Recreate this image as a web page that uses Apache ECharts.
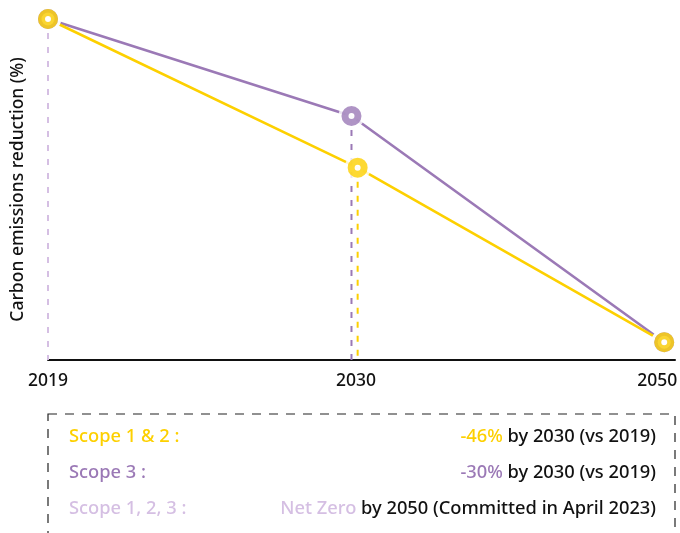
<!DOCTYPE html>
<html>
<head>
<meta charset="utf-8">
<script src="https://cdn.jsdelivr.net/npm/echarts@6/dist/echarts.min.js"></script>
<style>
html,body{margin:0;padding:0;background:#fff;}
#chart{width:680px;height:533px;}
</style>
</head>
<body>
<div id="chart"></div>
<script>
// ---- data ----
const yearLabels = ['2019', '2030', '2050'];
const tickPos = [0, 1, 2];
const scope12X = [0, 1.005, 2];
const scope12 = [100, 54, 0];
const scope3X = [0, 0.985, 2];
const scope3 = [100, 70, 0];
const yName = 'Carbon emissions reduction (%)';
const legendRows = [
  { label: 'Scope 1 & 2 :', value: '-46%', rest: ' by 2030 (vs 2019)', key: 'y' },
  { label: 'Scope 3 :', value: '-30%', rest: ' by 2030 (vs 2019)', key: 'p' },
  { label: 'Scope 1, 2, 3 :', value: 'Net Zero', rest: ' by 2050 (Committed in April 2023)', key: 'l' }
];

const YELLOW = '#FDD000';
const PURPLE = '#9B79B6';
const LAV = '#D5BFE3';
const FONT = '"Noto Sans"';
const FW = 500;
const Y_MIN = -5.5;

const zip = (xs, ys) => xs.map((x, i) => [x, ys[i]]);
const colorOf = { y: YELLOW, p: PURPLE, l: LAV };

const chart = echarts.init(document.getElementById('chart'), null, { renderer: 'canvas' });

const graphics = [{
  type: 'rect',
  shape: { x: 48, y: 414, width: 627, height: 150 },
  style: { fill: 'none', stroke: '#222', lineWidth: 1.2, lineDash: [9, 8] },
  silent: true
}];
const rowY = [437, 473, 509];
legendRows.forEach((r, i) => {
  graphics.push({
    type: 'text', x: 69, y: rowY[i],
    style: { text: r.label, fill: colorOf[r.key], fontSize: 18.3, fontFamily: FONT, fontWeight: FW, verticalAlign: 'middle' }
  });
  graphics.push({
    type: 'text', x: 656, y: rowY[i],
    style: {
      text: '{v|' + r.value + '}{k|' + r.rest + '}',
      align: 'right', verticalAlign: 'middle',
      rich: {
        v: { fill: colorOf[r.key], fontSize: 18.3, fontFamily: FONT, fontWeight: FW },
        k: { fill: '#111', fontSize: 18.3, fontFamily: FONT, fontWeight: FW }
      }
    }
  });
});

const dashStyle = (c) => ({ color: c, width: 2, type: [6, 8] });

chart.setOption({
  animation: false,
  backgroundColor: '#fff',
  textStyle: { fontFamily: FONT },
  grid: { left: 48, right: 5, top: 19, bottom: 173, containLabel: false, outerBoundsMode: 'none' },
  xAxis: {
    type: 'value', min: 0, max: 2.035, interval: 1,
    axisLine: { show: true, onZero: false, lineStyle: { color: '#111', width: 2 } },
    axisTick: { show: false },
    splitLine: { show: false },
    axisLabel: {
      margin: 12, color: '#111', fontSize: 17.5, fontFamily: FONT, fontWeight: FW,
      showMaxLabel: false,
      formatter: (v) => {
        const i = tickPos.indexOf(v);
        if (i < 0) return '';
        return i === 2 ? '{r|' + yearLabels[i] + '}' : yearLabels[i];
      },
      rich: { r: { fontSize: 17.5, fontFamily: FONT, fontWeight: FW, color: '#111', padding: [0, 14, 0, 0] } }
    }
  },
  yAxis: {
    type: 'value', min: Y_MIN, max: 100,
    name: yName, nameLocation: 'middle', nameGap: 21,
    nameTextStyle: { fontSize: 17.5, color: '#111', fontFamily: FONT, fontWeight: FW },
    axisLine: { show: false }, axisTick: { show: false },
    axisLabel: { show: false }, splitLine: { show: false }
  },
  graphic: graphics,
  series: [
    { type: 'line', data: [[scope12X[0], scope12[0]], [scope12X[0], Y_MIN]], showSymbol: false, silent: true, lineStyle: dashStyle(LAV), z: 1 },
    { type: 'line', data: [[scope3X[1], scope3[1]], [scope3X[1], Y_MIN]], showSymbol: false, silent: true, lineStyle: dashStyle(PURPLE), z: 1 },
    { type: 'line', data: [[scope12X[1], scope12[1]], [scope12X[1], Y_MIN]], showSymbol: false, silent: true, lineStyle: dashStyle(YELLOW), z: 1 },
    { type: 'line', data: zip(scope3X, scope3), showSymbol: false, clip: false, lineStyle: { color: PURPLE, width: 2.6 }, z: 2 },
    { type: 'line', data: zip(scope12X, scope12), showSymbol: false, clip: false, lineStyle: { color: YELLOW, width: 2.6 }, z: 2 },
    { type: 'scatter', data: zip(scope3X, scope3).concat(zip(scope12X, scope12)), symbol: 'circle', symbolSize: 26, itemStyle: { color: '#fff' }, z: 3, silent: true, clip: false },
    { type: 'scatter', data: zip(scope3X, scope3), symbol: 'circle', symbolSize: 13, itemStyle: { color: '#fff', borderColor: PURPLE, borderWidth: 7 }, z: 4, clip: false },
    { type: 'scatter', data: zip(scope12X, scope12), symbol: 'circle', symbolSize: 13, itemStyle: { color: '#fff', borderColor: YELLOW, borderWidth: 7 }, z: 5, clip: false }
  ]
});
</script>
</body>
</html>
